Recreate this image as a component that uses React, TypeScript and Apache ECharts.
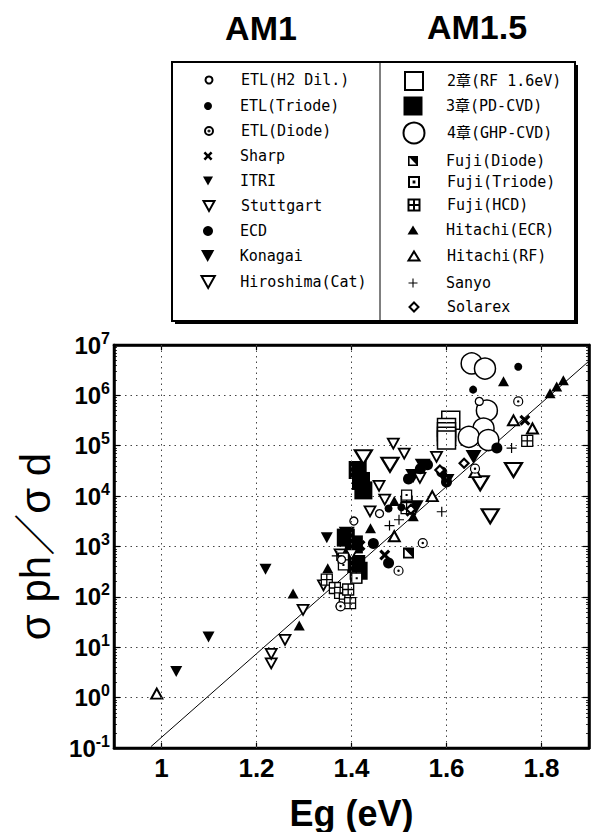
import React, { useEffect, useRef } from 'react';
import * as echarts from 'echarts';

// ---------- data ----------
const xTickValues = [1, 1.2, 1.4, 1.6, 1.8];
const fitLine = [[0.978, 0.107], [1.9, 4.8e6]];

const etlH2Dil = [[1.376, 65], [1.379, 550], [1.405, 3200], [1.459, 4500], [1.669, 7.6e5]];
const etlTriode = [[1.478, 5700], [1.505, 6000], [1.656, 1.3e6], [1.751, 3.7e6]];
const etlDiode = [[1.377, 65], [1.499, 330], [1.55, 1170], [1.66, 3.5e4], [1.751, 7.6e5]];
const sharp = [[1.418, 1050], [1.47, 680], [1.525, 5000], [1.765, 3.2e5]];
const itri = [[1.031, 3.3], [1.099, 16], [1.219, 355], [1.348, 1500]];
const stuttgart = [[1.231, 4.8], [1.231, 7.4], [1.26, 14], [1.298, 55], [1.341, 170], [1.376, 700], [1.4, 700], [1.439, 5000], [1.458, 1.6e4], [1.47, 8500], [1.488, 1.1e5], [1.511, 7e4], [1.544, 2.3e4], [1.579, 6e4]];
const ecd = [[1.446, 1150], [1.478, 470], [1.52, 2.2e4], [1.545, 3.5e4], [1.56, 4.2e4], [1.59, 3e4], [1.6, 1.9e4], [1.706, 9e4]];
const konagai = [[1.39, 1800], [1.53, 2.5e4], [1.55, 4e4], [1.535, 6000], [1.6, 2e4], [1.657, 6e4]];
const hiroshima = [[1.425, 5.9e4], [1.481, 4.2e4], [1.671, 1.8e4], [1.692, 4000], [1.741, 3.3e4]];
const chap2 = [[1.609, 3.2e5], [1.6, 2.3e5], [1.6, 1.9e5], [1.6, 1.55e5], [1.6, 1.3e5]];
const chap3 = [[1.413, 3.3e4], [1.42, 2e4], [1.425, 1.3e4], [1.388, 1500], [1.405, 1100], [1.41, 450], [1.415, 330]];
const chap4 = [[1.653, 4.3e6], [1.681, 3.4e6], [1.685, 5e5], [1.678, 2.2e5], [1.647, 1.5e5], [1.688, 1.3e5]];
const fujiDiode = [[1.52, 740]];
const fujiTriode = [[1.383, 590], [1.383, 430], [1.411, 235], [1.516, 1.05e4]];
const fujiHcd = [[1.348, 220], [1.365, 150], [1.376, 120], [1.386, 90], [1.397, 75], [1.393, 140], [1.41, 240], [1.516, 7800], [1.516, 5800], [1.77, 1.25e5]];
const hitachiEcr = [[1.277, 117], [1.29, 27], [1.35, 370], [1.44, 2300], [1.49, 8000], [1.53, 4000], [1.72, 1.9e6], [1.818, 1.1e6], [1.832, 1.5e6], [1.846, 2e6]];
const hitachiRf = [[0.99, 1.2], [1.49, 1600], [1.57, 1e4], [1.66, 3e4], [1.741, 3.2e5], [1.781, 2.2e5]];
const sanyo = [[1.369, 650], [1.48, 2600], [1.5, 3400], [1.59, 4900], [1.737, 9e4]];
const solarex = [[1.525, 5500], [1.586, 3.3e4], [1.637, 4.5e4]];

// ---------- styles ----------
const FONT = "'Liberation Sans', Arial, 'Noto Sans CJK JP', sans-serif";
const MONO = "'DejaVu Sans Mono', 'Liberation Mono', 'Noto Sans CJK JP', monospace";

const SYM = {
  x: 'path://M0,2L2,0L5,3L8,0L10,2L7,5L10,8L8,10L5,7L2,10L0,8L3,5Z',
  plus: 'path://M4.4,0H5.6V4.4H10V5.6H5.6V10H4.4V5.6H0V4.4H4.4Z',
  gridSq: 'path://M0,0H10V10H0ZM5,0V10M0,5H10',
  dotSq: 'path://M0,0H10V10H0ZM4.6,4.6H5.4V5.4H4.6Z',
  halfSq: 'path://M0,0H10V10H0ZM1.6,1.6V8.4H8.4V1.6ZM1.6,1.6H8.4V8.4Z',
  dotCircle: 'path://M5,0A5,5,0,1,1,5,10A5,5,0,1,1,5,0ZM5,4.3A0.7,0.7,0,1,1,5,5.7A0.7,0.7,0,1,1,5,4.3Z',
  down: 'path://M0,0H10L5,9Z',
};

type Def = {
  name: string; data: number[][]; symbol: string; size: number | number[];
  fill: string; bw?: number; lsize: number[];
};

const defs: Def[] = [
  { name: 'ETL(H2 Dil.)', data: etlH2Dil, symbol: 'circle', size: 8, fill: '#fff', bw: 1.3, lsize: [7, 7] },
  { name: 'ETL(Triode)', data: etlTriode, symbol: 'circle', size: 8, fill: '#000', lsize: [8, 8] },
  { name: 'ETL(Diode)', data: etlDiode, symbol: SYM.dotCircle, size: 9, fill: '#fff', bw: 1.2, lsize: [8, 8] },
  { name: 'Sharp', data: sharp, symbol: SYM.x, size: 11, fill: '#000', lsize: [9, 9] },
  { name: 'ITRI', data: itri, symbol: SYM.down, size: [12, 11], fill: '#000', lsize: [10, 10] },
  { name: 'Stuttgart', data: stuttgart, symbol: SYM.down, size: [11, 10], fill: '#fff', bw: 1.8, lsize: [11, 10] },
  { name: 'ECD', data: ecd, symbol: 'circle', size: 11, fill: '#000', lsize: [10, 10] },
  { name: 'Konagai', data: konagai, symbol: SYM.down, size: [16, 14], fill: '#000', lsize: [14, 12] },
  { name: 'Hiroshima(Cat)', data: hiroshima, symbol: SYM.down, size: [17, 14], fill: '#fff', bw: 2.2, lsize: [15, 12] },
  { name: '2章(RF 1.6eV)', data: chap2, symbol: 'rect', size: 18, fill: '#fff', bw: 1.5, lsize: [18, 18] },
  { name: '3章(PD-CVD)', data: chap3, symbol: 'rect', size: 18, fill: '#000', lsize: [19, 19] },
  { name: '4章(GHP-CVD)', data: chap4, symbol: 'circle', size: 21, fill: '#fff', bw: 1.5, lsize: [21, 21] },
  { name: 'Fuji(Diode)', data: fujiDiode, symbol: SYM.halfSq, size: 11, fill: '#000', lsize: [10, 10] },
  { name: 'Fuji(Triode)', data: fujiTriode, symbol: SYM.dotSq, size: 10, fill: '#fff', bw: 1.3, lsize: [10, 10] },
  { name: 'Fuji(HCD)', data: fujiHcd, symbol: SYM.gridSq, size: 11, fill: '#fff', bw: 1.3, lsize: [11, 11] },
  { name: 'Hitachi(ECR)', data: hitachiEcr, symbol: 'triangle', size: [11, 10], fill: '#000', lsize: [11, 9] },
  { name: 'Hitachi(RF)', data: hitachiRf, symbol: 'triangle', size: [11, 10], fill: '#fff', bw: 2, lsize: [11, 9] },
  { name: 'Sanyo', data: sanyo, symbol: SYM.plus, size: 10, fill: '#000', lsize: [9, 9] },
  { name: 'Solarex', data: solarex, symbol: 'diamond', size: 9, fill: '#fff', bw: 2.2, lsize: [9, 9] },
];

const leftRows = [80, 106, 131, 156, 181, 206, 231, 256, 282];
const rightRows = [80, 106, 132, 161, 182, 205, 230, 256, 283, 307];

function buildOption() {
  const series: any[] = [
    {
      type: 'line', name: 'fit', data: fitLine, showSymbol: false, symbol: 'none', silent: true,
      lineStyle: { color: '#000', width: 1 }, z: 1,
      markLine: {
        silent: true, symbol: ['none', 'none'], label: { show: false },
        lineStyle: { type: [1.5, 4], color: '#444', width: 1 },
        data: xTickValues.map((v) => ({ xAxis: v })),
      },
    },
  ];
  // draw big open markers first so small ones stay visible
  const order = [11, 9, 10, 8, 7, 5, 4, 6, 3, 15, 16, 14, 13, 12, 0, 1, 2, 17, 18];
  order.forEach((i) => {
    const d = defs[i];
    series.push({
      type: 'scatter', name: d.name, data: d.data, symbol: d.symbol, symbolSize: d.size,
      itemStyle: { color: d.fill, borderColor: '#000', borderWidth: d.bw || 0, opacity: 1 },
      z: 3,
    });
  });

  const legends = defs.map((d, i) => {
    const right = i >= 9;
    const cx = right ? 413 : 208;
    const tx = right ? 446 : 240;
    const cy = right ? rightRows[i - 9] : leftRows[i];
    const [w, h] = d.lsize;
    return {
      data: [{ name: d.name }], selectedMode: false, padding: 0, z: 10,
      left: cx - w / 2, top: cy - Math.max(h, 18) / 2,
      itemWidth: w, itemHeight: h,
      textStyle: {
        fontFamily: MONO, fontSize: 15, lineHeight: 18, color: '#000',
        padding: [0, 0, 0, tx - (cx + w / 2 + 5)],
      },
    };
  });

  const yLabel = (v: number) => {
    const e = Math.round(Math.log10(v));
    return `{b|10}{s|${e}}`;
  };
  const xLabel = (v: number) => {
    const k = Math.round(v * 10);
    if (k % 2 !== 0) return '';
    return String(Number((k / 10).toFixed(1)));
  };

  return {
    animation: false,
    backgroundColor: '#fff',
    textStyle: { fontFamily: FONT },
    grid: { left: 114, right: 2, top: 345, bottom: 84, show: true, borderColor: '#000', borderWidth: 2.5, backgroundColor: 'transparent' },
    legend: legends,
    xAxis: [
      {
        type: 'value', min: 0.9, max: 1.9, interval: 0.1, position: 'bottom',
        axisLine: { show: true, onZero: false, lineStyle: { color: '#000', width: 2.5 } },
        axisTick: { show: true, inside: true, length: 5, customValues: xTickValues, lineStyle: { color: '#000', width: 1.2 } },
        axisLabel: { customValues: xTickValues, formatter: xLabel, fontSize: 26, fontWeight: 'bold', fontFamily: FONT, color: '#000', margin: 7 },
        splitLine: { show: false },
        name: 'Eg (eV)', nameLocation: 'middle', nameGap: 47,
        nameTextStyle: { fontSize: 36, fontWeight: 'bold', fontFamily: FONT, color: '#000' },
      },
      {
        type: 'value', min: 0.9, max: 1.9, interval: 0.1, position: 'top',
        axisLine: { show: true, onZero: false, lineStyle: { color: '#000', width: 2.5 } },
        axisTick: { show: true, inside: true, length: 5, customValues: xTickValues, lineStyle: { color: '#000', width: 1.2 } },
        axisLabel: { show: false },
        splitLine: { show: false },
      },
    ],
    yAxis: [
      {
        type: 'log', logBase: 10, min: 0.1, max: 1e7, splitNumber: 8, position: 'left',
        axisLine: { show: true, onZero: false, lineStyle: { color: '#000', width: 2.5 } },
        axisTick: { show: true, inside: true, length: 6, lineStyle: { color: '#000', width: 1.2 } },
        minorTick: { show: true, splitNumber: 9, length: 3, lineStyle: { color: '#000', width: 0.8 } },
        axisLabel: {
          formatter: yLabel, margin: 4, color: '#000',
          rich: {
            b: { fontSize: 24, fontWeight: 'bold', fontFamily: FONT, color: '#000', lineHeight: 30 },
            s: { fontSize: 16, fontWeight: 'bold', fontFamily: FONT, color: '#000', lineHeight: 18, verticalAlign: 'top' },
          },
        },
        splitLine: { show: true, lineStyle: { type: [1.5, 4], color: '#444', width: 1 } },
        name: 'σ ph／σ d', nameLocation: 'middle', nameGap: 58, nameRotate: 90,
        nameTextStyle: { fontSize: 42, fontFamily: FONT, color: '#000' },
      },
      {
        type: 'log', logBase: 10, min: 0.1, max: 1e7, splitNumber: 8, position: 'right',
        axisLine: { show: true, onZero: false, lineStyle: { color: '#000', width: 2.5 } },
        axisTick: { show: true, inside: true, length: 6, lineStyle: { color: '#000', width: 1.2 } },
        minorTick: { show: true, splitNumber: 9, length: 3, lineStyle: { color: '#000', width: 0.8 } },
        axisLabel: { show: false },
        splitLine: { show: false },
      },
    ],
    graphic: {
      elements: [
        { type: 'rect', z: 0, shape: { x: 175, y: 65, width: 403, height: 259 }, style: { fill: '#000' } },
        { type: 'rect', z: 1, shape: { x: 172, y: 62, width: 403, height: 259 }, style: { fill: '#fff', stroke: '#000', lineWidth: 2 } },
        { type: 'line', z: 2, shape: { x1: 380, y1: 63, x2: 380, y2: 320 }, style: { stroke: '#000', lineWidth: 1 } },
        {
          type: 'text', z: 2, x: 261, y: 28,
          style: { text: 'AM1', fontSize: 34, fontWeight: 'bold', fontFamily: FONT, fill: '#000', align: 'center', verticalAlign: 'middle', textAlign: 'center', textVerticalAlign: 'middle' },
        },
        {
          type: 'text', z: 2, x: 477, y: 27,
          style: { text: 'AM1.5', fontSize: 34, fontWeight: 'bold', fontFamily: FONT, fill: '#000', align: 'center', verticalAlign: 'middle', textAlign: 'center', textVerticalAlign: 'middle' },
        },
      ],
    },
    series,
  };
}

export default function App() {
  const ref = useRef<HTMLDivElement>(null);
  useEffect(() => {
    if (!ref.current) return;
    const chart = echarts.init(ref.current, null, { renderer: 'svg' });
    chart.setOption(buildOption() as any);
    return () => chart.dispose();
  }, []);
  return (
    <div
      ref={ref}
      style={{ position: 'fixed', left: 0, top: 0, width: 591, height: 832, background: '#fff' }}
    />
  );
}
